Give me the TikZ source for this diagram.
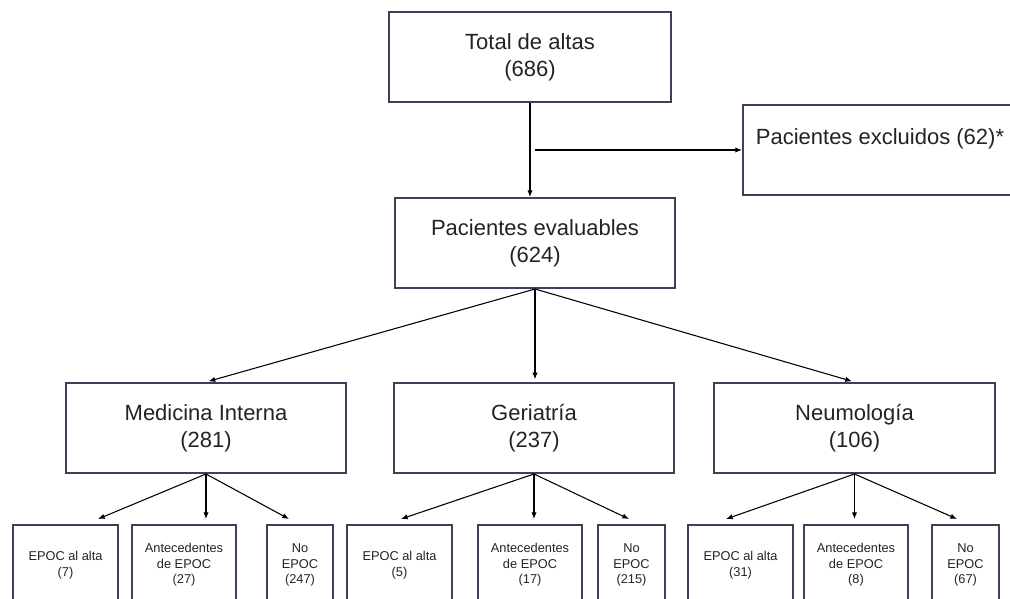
\documentclass[tikz,border=0pt]{standalone}
\usepackage{fontspec}
\setmainfont{Liberation Sans}
\usetikzlibrary{arrows.meta,calc}
\definecolor{boxc}{RGB}{58,66,86}
\definecolor{txt}{RGB}{35,35,35}
\begin{document}
\begin{tikzpicture}[x=0.75pt,y=-0.75pt,
  box/.style={draw=boxc, line width=1.5pt, text=txt, align=center, inner sep=0pt},
  big/.style={box, font=\fontsize{16.5}{20.25}\selectfont, minimum height=67.5pt},
  small/.style={box, font=\fontsize{9.6}{11.6}\selectfont, minimum height=60pt},
  arr/.style={-{Latex[length=5pt,width=4pt]}, line width=0.8pt, black}]
\clip (0,0) rectangle (1010,599);
% main boxes
\node[big, minimum width=211.5pt] (top) at (530,57) {Total de altas\\(686)};
\node[big, minimum width=205.5pt] (exc) at (880,150) {Pacientes excluidos (62)*\\\mbox{}};
\node[big, minimum width=210pt] (eval) at (535,243) {Pacientes evaluables\\(624)};
\node[big, minimum width=210pt] (mi) at (206,428) {Medicina Interna\\(281)};
\node[big, minimum width=210pt] (ger) at (534,428) {Geriatría\\(237)};
\node[big, minimum width=210.75pt] (neu) at (854.5,428) {Neumología\\(106)};
% bottom boxes
\node[small, minimum width=78.75pt] (m1) at (65.5,565) {EPOC al alta\\(7)};
\node[small, minimum width=78pt] (m2) at (184,565) {Antecedentes\\de EPOC\\(27)};
\node[small, minimum width=49.5pt] (m3) at (300,565) {No\\EPOC\\(247)};
\node[small, minimum width=78.75pt] (g1) at (399.5,565) {EPOC al alta\\(5)};
\node[small, minimum width=78pt] (g2) at (530,565) {Antecedentes\\de EPOC\\(17)};
\node[small, minimum width=50.25pt] (g3) at (631.5,565) {No\\EPOC\\(215)};
\node[small, minimum width=78.75pt] (n1) at (740.5,565) {EPOC al alta\\(31)};
\node[small, minimum width=78pt] (n2) at (856,565) {Antecedentes\\de EPOC\\(8)};
\node[small, minimum width=50.25pt] (n3) at (965.5,565) {No\\EPOC\\(67)};
% tip coordinates
\coordinate (tm1) at (98,519);
\coordinate (tm2) at (206,519);
\coordinate (tm3) at (289,519);
\coordinate (tg1) at (401,519);
\coordinate (tg2) at (534,519);
\coordinate (tg3) at (629,519);
\coordinate (tn1) at (726,519);
\coordinate (tn2) at (854.5,519);
\coordinate (tn3) at (957,519);
% connectors
\draw[arr] (top.south) -- (top.south |- eval.north);
\draw[arr] ($(top.south |- exc.west)+(5,0)$) -- (exc.west);
\draw[arr, shorten >=2pt] (eval.south) -- (mi.north);
\draw[arr, shorten >=2pt] (eval.south) -- (eval.south |- ger.north);
\draw[arr, shorten >=2pt] (eval.south) -- (neu.north);
\draw[arr] (mi.south) -- (tm1);
\draw[arr] (mi.south) -- (tm2);
\draw[arr] (mi.south) -- (tm3);
\draw[arr] (ger.south) -- (tg1);
\draw[arr] (ger.south) -- (tg2);
\draw[arr] (ger.south) -- (tg3);
\draw[arr] (neu.south) -- (tn1);
\draw[arr] (neu.south) -- (tn2);
\draw[arr] (neu.south) -- (tn3);
\end{tikzpicture}
\end{document}
